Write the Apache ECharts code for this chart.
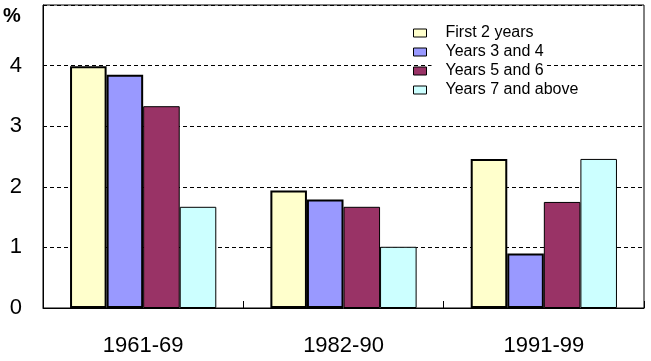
<!DOCTYPE html>
<html>
<head>
<meta charset="utf-8">
<script src="https://cdn.jsdelivr.net/npm/echarts@6/dist/echarts.min.js"></script>
<style>
html,body{margin:0;padding:0;background:#fff;}
#c{width:651px;height:361px;}
</style>
</head>
<body>
<div id="c"></div>
<script>
const categories = ['1961-69', '1982-90', '1991-99'];
const seriesNames = ['First 2 years', 'Years 3 and 4', 'Years 5 and 6', 'Years 7 and above'];
const first2Years = [3.99, 1.94, 2.46];
const years3And4 = [3.85, 1.79, 0.90];
const years5And6 = [3.33, 1.67, 1.75];
const years7Above = [1.67, 1.01, 2.46];
const yTicks = [0, 1, 2, 3, 4, 5];

const FONT = 'Liberation Sans, Arial, sans-serif';
const colors = ['#FFFFCC', '#9999FF', '#993366', '#CCFFFF'];
const borders = [2, 2, 1, 1];
const dataSets = [first2Years, years3And4, years5And6, years7Above];

const chart = echarts.init(document.getElementById('c'), null, {renderer: 'canvas'});
chart.setOption({
  animation: false,
  backgroundColor: '#fff',
  textStyle: {fontFamily: FONT},
  grid: {left: 43, right: 7, top: 5, bottom: 53, show: true, borderColor: '#000', borderWidth: 1, backgroundColor: 'transparent'},
  legend: {
    orient: 'vertical',
    left: 408,
    top: 20,
    itemWidth: 13,
    itemHeight: 8,
    itemGap: 3,
    icon: 'rect',
    itemStyle: {borderColor: '#000', borderWidth: 1},
    textStyle: {fontFamily: FONT, fontSize: 16, lineHeight: 16, color: '#000', backgroundColor: '#fff', padding: [0, 2, 0, 14]},
    data: seriesNames
  },
  graphic: [{
    type: 'text', left: 3, top: 6,
    style: {text: '%', font: 'bold 20px ' + FONT, fill: '#000'}
  }],
  xAxis: {
    type: 'category',
    data: categories,
    axisLine: {lineStyle: {color: '#000', width: 1}},
    axisTick: {show: true, inside: true, length: 7, lineStyle: {color: '#000'}},
    axisLabel: {fontSize: 22, color: '#000', margin: 27, fontFamily: FONT}
  },
  yAxis: {
    type: 'value',
    min: yTicks[0],
    max: yTicks[yTicks.length - 1],
    interval: 1,
    axisLine: {show: true, lineStyle: {color: '#000', width: 1}},
    axisTick: {show: false},
    axisLabel: {fontSize: 22, color: '#000', margin: 21, fontFamily: FONT, showMaxLabel: false,
      formatter: v => (v === yTicks[yTicks.length - 1] ? '' : String(v))},
    splitLine: {show: true, lineStyle: {color: '#000', type: [4, 3], width: 1}}
  },
  series: seriesNames.map((name, i) => ({
    name: name,
    type: 'bar',
    data: dataSets[i],
    barGap: '0%',
    barCategoryGap: '27%',
    itemStyle: {color: colors[i], borderColor: '#000', borderWidth: borders[i]}
  }))
});
</script>
</body>
</html>
